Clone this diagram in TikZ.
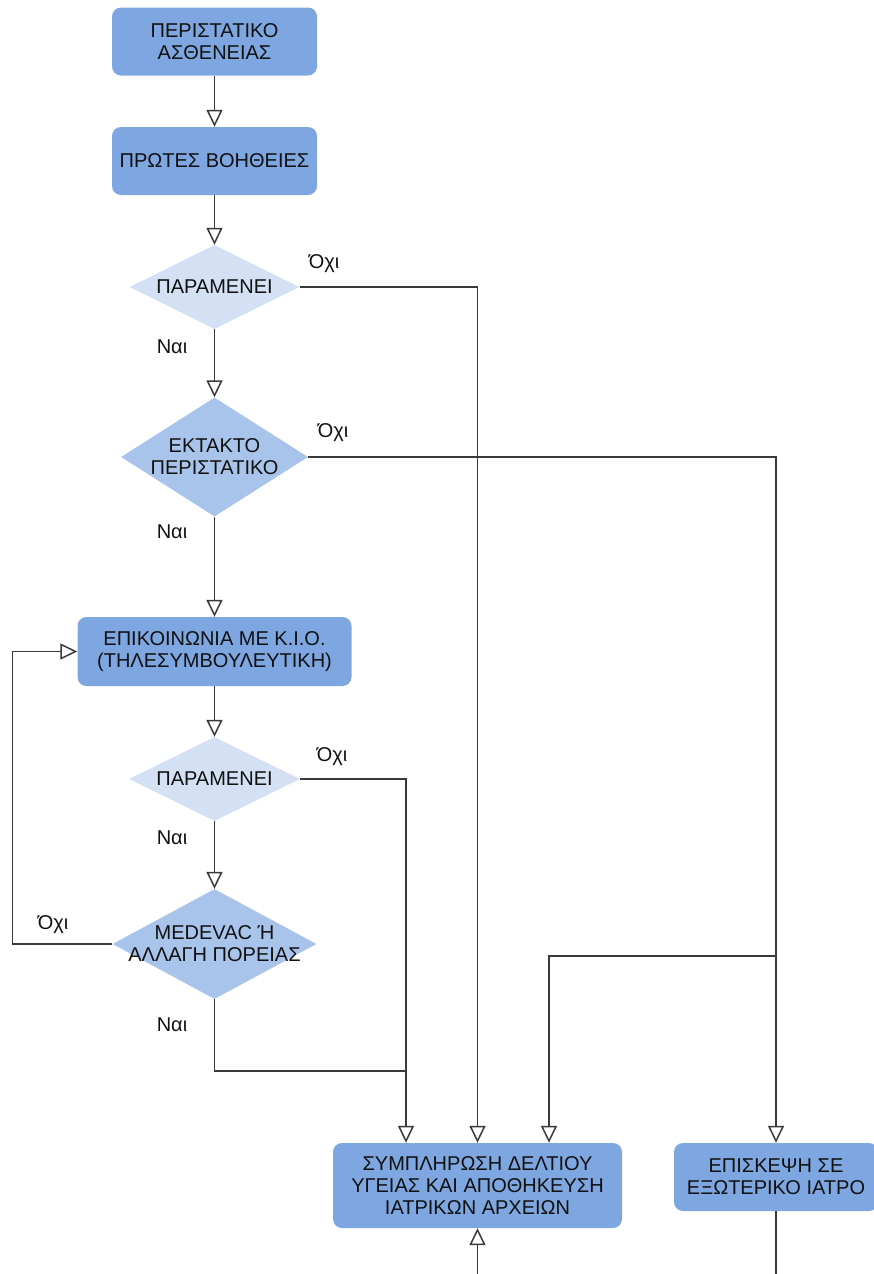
\documentclass[tikz,border=0pt]{standalone}
\usepackage{fontspec}
\setmainfont{Liberation Sans}
\usetikzlibrary{shapes.geometric,arrows.meta}
\definecolor{boxblue}{HTML}{7EA6E0}
\definecolor{dlight}{HTML}{D4E1F5}
\definecolor{dmid}{HTML}{A9C4EB}
\definecolor{linec}{HTML}{3A3A3A}
\definecolor{txtc}{HTML}{111111}
\begin{document}
\begin{tikzpicture}[x=1pt,y=-1pt,
  font=\fontsize{20}{22}\selectfont, text=txtc,
  procbox/.style={rectangle, rounded corners=9pt, fill=boxblue, align=center, inner sep=0pt},
  decis/.style={diamond, inner sep=0pt, fill=#1},
  dlabel/.style={align=center, inner sep=0pt},
  conn/.style={draw=linec, line width=1.5pt, -{Triangle[open, length=17pt, width=16pt]}},
  plainline/.style={draw=linec, line width=1.5pt},
  anstext/.style={inner sep=0pt}]
\useasboundingbox (0,0) rectangle (873,1274);

% process boxes
\node[procbox, minimum width=205pt, minimum height=68pt] (b1) at (214.5,41.5) {ΠΕΡΙΣΤΑΤΙΚΟ\\ΑΣΘΕΝΕΙΑΣ};
\node[procbox, minimum width=205pt, minimum height=68pt] (b2) at (214.5,161) {ΠΡΩΤΕΣ ΒΟΗΘΕΙΕΣ};
\node[procbox, minimum width=274pt, minimum height=69pt] (b3) at (214.5,651.5) {ΕΠΙΚΟΙΝΩΝΙΑ ΜΕ Κ.Ι.Ο.\\(ΤΗΛΕΣΥΜΒΟΥΛΕΥΤΙΚΗ)};
\node[procbox, minimum width=289pt, minimum height=85pt] (b4) at (477.5,1185.5) {ΣΥΜΠΛΗΡΩΣΗ ΔΕΛΤΙΟΥ\\ΥΓΕΙΑΣ ΚΑΙ ΑΠΟΘΗΚΕΥΣΗ\\ΙΑΤΡΙΚΩΝ ΑΡΧΕΙΩΝ};
\node[procbox, minimum width=204pt, minimum height=68pt] (b5) at (776,1177) {ΕΠΙΣΚΕΨΗ ΣΕ\\ΕΞΩΤΕΡΙΚΟ ΙΑΤΡΟ};

% decisions
\node[decis=dlight, minimum width=170pt, minimum height=84pt, label={[dlabel]center:ΠΑΡΑΜΕΝΕΙ}] (d1) at (214.5,287) {};
\node[decis=dmid, minimum width=187pt, minimum height=119pt, label={[dlabel]center:ΕΚΤΑΚΤΟ\\ΠΕΡΙΣΤΑΤΙΚΟ}] (d2) at (214.5,457) {};
\node[decis=dlight, minimum width=171pt, minimum height=84pt, label={[dlabel]center:ΠΑΡΑΜΕΝΕΙ}] (d3) at (214.5,779) {};
\node[decis=dmid, minimum width=204pt, minimum height=110pt, label={[dlabel]center:MEDEVAC Ή\\ΑΛΛΑΓΗ ΠΟΡΕΙΑΣ}] (d4) at (214.5,944) {};

% answer labels
\node[anstext] (o1) at (324,264) {Όχι};
\node[anstext] (o2) at (333,433) {Όχι};
\node[anstext] (o3) at (332,757) {Όχι};
\node[anstext] (o4) at (53,925) {Όχι};
\node[anstext] (n1) at (172,347) {Ναι};
\node[anstext] (n2) at (172,532) {Ναι};
\node[anstext] (n3) at (172,838) {Ναι};
\node[anstext] (n4) at (172,1025) {Ναι};

% free ends
\coordinate (j1) at (776,805);
\coordinate (j2) at (776,956);
\coordinate (e1) at (477.5,1274);
\coordinate (e2) at (776,1274);

% connectors
\draw[conn] (b1) -- (b2);
\draw[conn] (b2) -- (d1);
\draw[conn] (d1) -- (d2);
\draw[conn] (d2) -- (b3);
\draw[conn] (b3) -- (d3);
\draw[conn] (d3) -- (d4);
\draw[conn] (d1.east) -| (b4.north);
\draw[conn] (d2.east) -| (b5.north);
\draw[conn] (d3.east) -| ([xshift=-71.5pt]b4.north);
\draw[plainline] (d4.south) |- ([shift={(-71.5pt,72pt)}]b4.north);
\draw[conn] (d4.west) -- ++(-100,0) |- (b3.west);
\draw[conn] (j1) -- (j2) -| ([xshift=71.5pt]b4.north);
\draw[conn] (e1) -- (b4.south);
\draw[plainline] (b5.south) -- (e2);
\end{tikzpicture}
\end{document}
